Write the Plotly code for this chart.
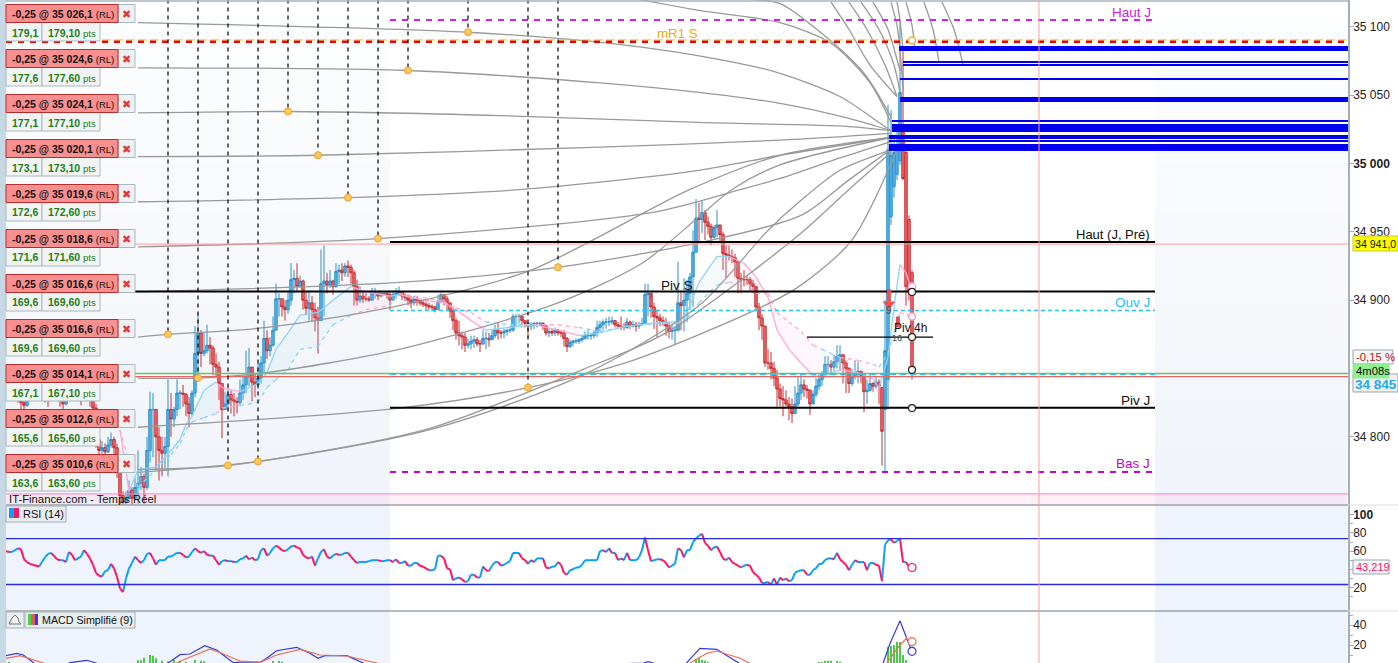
import plotly.graph_objects as go

W, H = 1398, 663

# candles, one per bar (bar n sits 3 px after bar n-1)
closes = [
    34831, 34833, 34836, 34834, 34830, 34825, 34823, 34827, 34831, 34833,
    34834, 34836, 34833, 34830, 34827, 34831, 34834, 34831, 34827, 34824,
    34828, 34833, 34836, 34834, 34831, 34828, 34833, 34831, 34827, 34821,
    34798, 34790, 34792, 34789, 34794, 34798, 34792, 34776, 34757, 34752,
    34755, 34761, 34755, 34763,
    34766, 34771, 34763, 34790, 34820, 34820, 34800, 34790, 34788, 34793,
    34820, 34813, 34820, 34832, 34832, 34831, 34824, 34817, 34832, 34861,
    34876, 34861, 34863, 34867, 34865, 34853, 34851, 34839, 34820, 34824,
    34831, 34827, 34826, 34825, 34832, 34838, 34844, 34851, 34840, 34838,
    34843, 34854, 34872, 34863, 34867, 34878, 34901, 34901, 34895, 34893,
    34900, 34915, 34916, 34910, 34914, 34900, 34894, 34898, 34893, 34887,
    34885, 34912, 34914, 34911, 34914, 34910, 34921, 34922, 34920, 34925,
    34924, 34920, 34910, 34900, 34903, 34901, 34901, 34900, 34905, 34905,
    34903, 34905, 34905, 34904, 34900, 34904, 34905, 34906,
    34903, 34902, 34900, 34898, 34901, 34900, 34898, 34897, 34896, 34895,
    34895, 34893, 34899, 34904, 34901, 34898, 34892, 34885, 34876, 34874,
    34873, 34867, 34868, 34870, 34871, 34868, 34868, 34872, 34872, 34871,
    34874, 34878, 34876, 34876, 34877, 34878, 34878, 34888, 34888, 34888,
    34885, 34883, 34881, 34882, 34883, 34883, 34883, 34881, 34876, 34877,
    34876, 34878, 34876, 34876, 34872, 34866, 34869, 34870, 34870, 34871,
    34872, 34874, 34874, 34874, 34876, 34880, 34882, 34884, 34884, 34884,
    34885, 34882, 34881, 34880, 34880, 34884, 34881, 34882, 34881, 34882,
    34883, 34904, 34905, 34895, 34888, 34887, 34885, 34884, 34881, 34877,
    34878, 34878, 34898, 34896, 34900, 34905, 34917, 34935, 34960, 34959,
    34964, 34957, 34954, 34946, 34953, 34955, 34948, 34934, 34933, 34932,
    34931, 34928, 34916, 34915, 34915, 34915, 34912, 34910, 34895, 34887,
    34881, 34854, 34854, 34850, 34843, 34835, 34828, 34827, 34824, 34822,
    34817, 34824, 34832,
    34838, 34835, 34834, 34824, 34831, 34837, 34842, 34845, 34853, 34853,
    34851, 34855, 34859, 34860, 34854, 34850, 34839, 34844, 34846, 34848,
    34845, 34833, 34834, 34839, 34837, 34840, 34837,
    34804, 34863, 35010, 35006, 35008, 35011, 35052, 34989, 34910, 34906, 34849,
]
highs = [
    34836, 34838, 34840, 34839, 34836, 34832, 34829, 34831, 34835, 34838,
    34839, 34840, 34838, 34836, 34833, 34835, 34838, 34836, 34833, 34829,
    34832, 34837, 34840, 34839, 34836, 34834, 34837, 34836, 34832, 34829,
    34824, 34800, 34797, 34795, 34800, 34803, 34800, 34795, 34778, 34760,
    34760, 34768, 34763, 34770,
    34790, 34778, 34773, 34800, 34833, 34832, 34820, 34807, 34800, 34800,
    34842, 34832, 34822, 34842, 34834, 34838, 34832, 34829, 34834, 34881,
    34890, 34878, 34876, 34882, 34873, 34867, 34861, 34855, 34839, 34833,
    34837, 34834, 34832, 34829, 34842, 34845, 34863, 34865, 34851, 34846,
    34854, 34859, 34885, 34878, 34873, 34888, 34912, 34905, 34901, 34900,
    34907, 34927, 34922, 34927, 34918, 34915, 34906, 34907, 34903, 34898,
    34895, 34937, 34940, 34920, 34922, 34915, 34927, 34926, 34927, 34927,
    34929, 34926, 34922, 34915, 34910, 34906, 34905, 34903, 34909, 34909,
    34907, 34907, 34907, 34906, 34907, 34907, 34909, 34910,
    34906, 34905, 34904, 34903, 34903, 34903, 34901, 34900, 34899, 34898,
    34897, 34896, 34904, 34905, 34904, 34903, 34898, 34894, 34887, 34885,
    34877, 34876, 34872, 34874, 34874, 34873, 34871, 34878, 34877, 34876,
    34878, 34882, 34884, 34878, 34879, 34879, 34881, 34890, 34890, 34890,
    34889, 34885, 34884, 34884, 34884, 34884, 34884, 34884, 34882, 34879,
    34879, 34880, 34879, 34878, 34878, 34873, 34871, 34871, 34872, 34872,
    34874, 34877, 34878, 34876, 34878, 34885, 34885, 34886, 34887, 34888,
    34888, 34885, 34884, 34888, 34883, 34887, 34885, 34885, 34884, 34884,
    34887, 34912, 34912, 34901, 34898, 34893, 34890, 34888, 34887, 34884,
    34883, 34881, 34928, 34907, 34916, 34915, 34920, 34951, 34974, 34971,
    34973, 34966, 34961, 34956, 34955, 34966, 34955, 34950, 34940, 34940,
    34937, 34934, 34929, 34920, 34922, 34918, 34917, 34915, 34907, 34898,
    34890, 34881, 34864, 34862, 34855, 34849, 34839, 34837, 34834, 34829,
    34828, 34837, 34844,
    34846, 34842, 34838, 34835, 34834, 34843, 34846, 34848, 34859, 34859,
    34856, 34860, 34867, 34867, 34859, 34856, 34851, 34850, 34856, 34855,
    34848, 34846, 34842, 34846, 34840, 34844, 34842,
    34836, 34900, 35043, 35039, 35021, 35025, 35105, 35082, 35010, 34962, 34922,
]
lows = [
    34826, 34828, 34831, 34829, 34825, 34820, 34818, 34822, 34826, 34828,
    34829, 34831, 34828, 34825, 34822, 34826, 34829, 34826, 34822, 34819,
    34823, 34828, 34831, 34829, 34826, 34823, 34828, 34826, 34822, 34816,
    34792, 34784, 34786, 34783, 34788, 34792, 34786, 34770, 34750, 34745,
    34748, 34754, 34748, 34756,
    34751, 34761, 34751, 34761, 34781, 34785, 34776, 34768, 34771, 34776,
    34771, 34800, 34807, 34815, 34820, 34822, 34815, 34807, 34815, 34829,
    34844, 34851, 34859, 34861, 34853, 34845, 34844, 34827, 34799, 34821,
    34820, 34817, 34815, 34817, 34823, 34827, 34832, 34837, 34826, 34829,
    34835, 34839, 34846, 34857, 34859, 34866, 34878, 34888, 34888, 34885,
    34890, 34896, 34905, 34906, 34909, 34893, 34889, 34885, 34884, 34877,
    34861, 34888, 34888, 34905, 34909, 34904, 34909, 34912, 34914, 34917,
    34917, 34912, 34896, 34896, 34898, 34898, 34899, 34899, 34900, 34901,
    34900, 34902, 34903, 34901, 34893, 34900, 34901, 34903,
    34900, 34899, 34896, 34894, 34896, 34896, 34896, 34895, 34893, 34893,
    34892, 34891, 34893, 34898, 34896, 34892, 34887, 34878, 34871, 34867,
    34864, 34862, 34865, 34864, 34865, 34866, 34862, 34867, 34864, 34866,
    34872, 34872, 34871, 34872, 34872, 34874, 34876, 34877, 34881, 34883,
    34882, 34880, 34873, 34878, 34879, 34880, 34881, 34878, 34874, 34873,
    34874, 34874, 34874, 34873, 34866, 34862, 34865, 34866, 34868, 34868,
    34869, 34871, 34871, 34871, 34872, 34873, 34877, 34878, 34879, 34881,
    34882, 34880, 34879, 34878, 34878, 34879, 34879, 34880, 34877, 34879,
    34881, 34885, 34888, 34887, 34879, 34873, 34881, 34881, 34874, 34872,
    34871, 34867, 34877, 34878, 34877, 34884, 34893, 34895, 34935, 34942,
    34949, 34944, 34948, 34940, 34945, 34946, 34942, 34922, 34916, 34929,
    34927, 34917, 34905, 34905, 34910, 34911, 34907, 34905, 34892, 34878,
    34871, 34851, 34849, 34842, 34837, 34822, 34822, 34815, 34822, 34812,
    34810, 34817, 34822,
    34827, 34829, 34828, 34816, 34827, 34829, 34834, 34837, 34843, 34846,
    34846, 34848, 34850, 34848, 34839, 34832, 34832, 34837, 34842, 34839,
    34839, 34818, 34824, 34833, 34833, 34835, 34824,
    34779, 34774, 34820, 34955, 34975, 34988, 34999, 34988, 34896, 34900, 34842,
]
# last bars open away from the previous close
tail_opens = [34836, 34820, 34842, 34961, 34983, 34992, 35002, 35023, 35008, 34959, 34920]
opens = [34828] + closes[:-1]
opens[-len(tail_opens):] = tail_opens
bars = list(range(len(closes)))

# moving averages
ma_bars = [38, 41, 44, 50, 55, 58, 60, 62, 66, 70, 72, 78, 84, 87, 90, 94, 98, 104, 109, 115,
           120, 128, 131, 139, 146, 150, 155, 160, 168, 176, 184, 191, 198, 205, 211, 220,
           224, 227, 231, 237, 241, 246, 250, 254, 257, 261, 265, 269, 272, 278, 284, 289,
           291, 294, 296, 298, 300, 302]
ma_fast = [34805, 34760, 34776, 34778, 34790, 34798, 34809, 34815, 34834, 34840, 34836, 34833,
           34839, 34847, 34864, 34876, 34889, 34891, 34900, 34910, 34906, 34903, 34904, 34900,
           34898, 34893, 34885, 34878, 34880, 34882, 34878, 34874, 34876, 34880, 34882, 34884,
           34884, 34891, 34913, 34932, 34932, 34927, 34917, 34902, 34878, 34864, 34854, 34845,
           34844, 34849, 34847, 34842, 34836, 34858, 34895, 34926, 34920, 34907]
ma_slow = [34805, 34782, 34763, 34776, 34787, 34795, 34805, 34811, 34814, 34817, 34821, 34823,
           34825, 34836, 34842, 34849, 34864, 34866, 34882, 34889, 34893, 34896, 34905, 34902,
           34899, 34894, 34891, 34884, 34882, 34882, 34882, 34880, 34877, 34880, 34882, 34883,
           34883, 34887, 34898, 34911, 34913, 34913, 34905, 34905, 34891, 34884, 34877, 34867,
           34864, 34858, 34856, 34853, 34851, 34861, 34876, 34891, 34889, 34888]

# grey order trajectories
curve_bars = [
    [44, 154, 205, 238, 258, 278, 291, 295],
    [44, 134, 198, 231, 258, 281, 295],
    [44, 94, 165, 231, 281, 295],
    [44, 104, 198, 258, 295],
    [44, 114, 172, 231, 258, 295],
    [44, 124, 215, 245, 258, 278, 295],
    [44, 131, 184, 231, 265, 281, 296],
    [44, 54, 87, 131, 175, 228, 258, 281, 295],
    [44, 64, 87, 131, 184, 212, 231, 242, 258, 295],
    [44, 131, 174, 209, 250, 265, 282, 297],
    [44, 74, 141, 194, 231, 254, 265, 278, 295],
    [44, 84, 141, 192, 220, 265, 281, 295],
    [211, 231, 258, 275, 288, 295],
    [246, 258, 272, 286, 295],
    [275, 281, 288, 297],
    [281, 287, 293, 297],
    [285, 291, 296, 298],
    [289, 294, 297, 298],
    [295, 297, 298, 299],
    [297, 298, 299],
    [300, 302, 303],
    [306, 309, 311],
    [312, 316, 319],
]
curve_prices = [
    [35103, 35096, 35087, 35076, 35066, 35049, 35030, 35024],
    [35070, 35068, 35059, 35052, 35044, 35033, 35024],
    [35037, 35038, 35035, 35030, 35027, 35024],
    [35005, 35006, 35012, 35017, 35022],
    [34972, 34975, 34981, 34995, 35006, 35019],
    [34939, 34945, 34964, 34981, 34989, 35004, 35016],
    [34906, 34913, 34924, 34942, 34962, 34988, 35012],
    [34873, 34875, 34880, 34896, 34922, 34981, 35006, 35015, 35019],
    [34843, 34843, 34847, 34864, 34898, 34927, 34961, 34981, 34999, 35019],
    [34807, 34821, 34836, 34856, 34893, 34911, 34944, 35010],
    [34776, 34779, 34805, 34847, 34896, 34951, 34973, 34995, 35010],
    [34774, 34782, 34806, 34849, 34876, 34949, 34981, 35008],
    [35120, 35112, 35103, 35088, 35059, 35030],
    [35120, 35117, 35095, 35066, 35034],
    [35118, 35098, 35072, 35049],
    [35118, 35098, 35072, 35049],
    [35118, 35098, 35072, 35052],
    [35118, 35098, 35076, 35068],
    [35118, 35101, 35083, 35054],
    [35118, 35105, 35083],
    [35118, 35101, 35083],
    [35118, 35098, 35074],
    [35118, 35098, 35072],
]

# dashed verticals ending on a gold dot
dot_bars = [54, 64, 74, 84, 94, 104, 114, 124, 134, 154, 174, 184]
dot_prices = [34875, 34843, 34779, 34782, 35038, 35006, 34975, 34945, 35068, 35096, 34836, 34924]

# blue levels on the right
level_prices = [35084.1, 35074.2, 35072, 35061.8, 35046.8, 35031, 35025.9, 35019.4, 35016.4, 35011.7]
level_starts = [297.7, 299, 299, 298, 298, 295.3, 295.3, 294.3, 294.3, 294.3]
level_widths = [5, 2, 2, 2, 5, 2, 8, 4, 2, 7]

# pivot lines
haut_j, mr1_s, haut_pre, piv_s, ouv_j = 35105, 35090, 34942.6, 34906.3, 34892.4
piv_4h, piv_j, bas_j, last_open = 34873, 34821.2, 34774.3, 34846
line_green, line_red, line_ask, line_bottom = 34846.3, 34844.1, 34941, 34758.2

# end of chart circles
ring_prices = [34906, 34873, 34849, 34821]
pink_ring_prices = [34910, 34888]

# RSI, one value per bar
rsi = [
    60, 59, 59, 61, 63, 62, 51, 48, 46, 45, 44, 43, 48, 53, 57, 58, 55, 51, 50, 50,
    48, 59, 56, 50, 52, 54, 61, 57, 52, 45, 36, 33, 32, 38, 39, 46, 41, 32, 19, 15,
    30, 41, 47, 54, 50, 47, 50, 57, 58, 52, 45, 50, 50, 50, 54, 54, 56, 58, 58, 56,
    53, 54, 59, 63, 60, 58, 60, 56, 55, 55, 50, 45, 49, 50, 49, 49, 48, 48, 51, 52,
    55, 51, 53, 50, 51, 61, 63, 55, 58, 63, 66, 64, 61, 60, 62, 65, 66, 64, 63, 56,
    53, 52, 54, 44, 52, 59, 62, 54, 52, 55, 57, 56, 56, 58, 58, 54, 50, 47, 48, 48,
    48, 49, 50, 50, 50, 49, 49, 50, 50, 48, 51, 47, 47, 49, 44, 44, 47, 47, 44, 43,
    41, 39, 39, 40, 55, 55, 52, 41, 40, 28, 30, 31, 29, 26, 27, 34, 34, 31, 31, 43,
    39, 38, 44, 48, 48,
    44, 45, 47, 49, 58, 58, 58, 52, 50, 46, 50, 48, 52, 52, 52, 42, 41, 43, 43, 48,
    45, 36, 34, 39, 40, 42, 42, 45, 50, 50, 50, 50, 50, 60, 61, 59, 63, 58, 58, 50,
    52, 50, 58, 50, 50, 50, 53, 61, 75, 61, 49, 50, 51, 51, 50, 47, 42, 44, 46, 63,
    61, 53, 61, 61, 70, 74, 77, 79, 69, 66, 61, 64, 65, 59, 52, 50, 53, 48, 46, 44,
    42, 44, 45, 44, 37, 34, 31, 25, 25, 26, 23, 30, 23, 31, 28, 30, 27, 28, 36, 38,
    39, 39, 34, 34, 39, 41, 46, 46, 50, 52, 52, 51, 58, 51, 48, 45, 39, 45, 50, 48,
    48, 48, 39, 47, 47, 45, 44, 27, 67, 72, 73, 69, 71, 74, 48, 48, 43, 42,
]
rsi_high, rsi_low = 73.8, 23.3

# MACD, read where it rises above the bottom of the window
macd_bars = [0, 3.6, 5.8, 9, 12.4, 20, 21.3, 27, 30, 35, 51, 54.7, 58, 61.3, 66.3, 70.2, 75.8,
             79, 84.7, 86.9, 90.2, 96.9, 101.3, 104, 106.3, 113.6, 119, 125.8, 212.5, 214,
             215.8, 218, 224.7, 226.9, 231.3, 236.9, 244.7, 248, 290.2, 292.4, 294.7, 298, 301.9]
macd_line = [9.3, 11.7, 10, 2, -5, 0, 2.3, 4.7, 2, -5, -5, 3.3, 10.3, 11, 19.3, 15, 2.3,
             3, 2.7, 6.7, 14.3, 17.7, 11.7, 6.7, 9.3, 9.3, 2, -7, 2, 3.3,
             2, -5, -5, 2, 16.7, 15.7, 2.3, -5, -7, 2, 21.7, 44.3, 13.7]
signal_bars = [0, 4.7, 12.4, 17, 53.6, 59, 68, 71.9, 78, 84.7, 90.2, 98, 104.7, 113.6, 123.6,
               128, 224.7, 228, 233.6, 236.9, 244.7, 248, 251, 290, 293.6, 298, 300.2, 301.9]
signal_line = [6.7, 9.3, 2, -3, -3, 5, 16, 11.7, 4, 2.7, 10, 15.7, 10, 9, 2,
               -3, -3, 2, 11.7, 14, 6.7, 2, -3, -3, 2, 20, 26.7, 23.3]
hist_bars = [1, 44, 45, 46, 48, 49, 50, 52, 54, 56, 58, 60, 63, 65, 66, 89, 91, 92,
             230, 231, 232, 233, 234, 271, 272, 273, 274, 275, 277, 278,
             294, 295, 296, 297, 298, 299, 300]
hist_values = [3.3, 4.7, 5, 7.3, 10, 9.3, 6.7, 4.3, 3.7, 5, 4.3, 3.3, 5, 4.3, 3.7, 4, 4, 3.3,
               5.7, 6.7, 5, 4.3, 3.3, 3, 3, 4.3, 4.3, 4.3, 4, 3.3,
               18.3, 19, 20, 23, 23, 10, 5]

# order tickets on the left
order_prices = ["35 026,1", "35 024,6", "35 024,1", "35 020,1", "35 019,6", "35 018,6",
                "35 016,6", "35 016,6", "35 014,1", "35 012,6", "35 010,6"]
order_pts = ["179,1", "177,6", "177,1", "173,1", "172,6", "171,6",
             "169,6", "169,6", "167,1", "165,6", "163,6"]

FONT = "Liberation Sans"
LAST_BAR = 1342 / 3
LEFT_BAR, MID_BAR = 0, (1155 - 6) / 3
ZONE_BAR = (390 - 6) / 3


def fx(px):
    return px / W


def fy(py):
    return 1 - py / H


fig = go.Figure()


def hline(price, x0, x1, color, width, dash="solid", yaxis="y"):
    fig.add_trace(go.Scatter(x=[x0, x1], y=[price, price], mode="lines", yaxis=yaxis,
                             line=dict(color=color, width=width, dash=dash), hoverinfo="skip"))


def rising(i):
    return ma_fast[i + 1] >= ma_fast[i]


# cloud between the averages, coloured with the direction of the fast one
for i in range(len(ma_bars) - 1):
    fill = "rgba(170,215,240,0.12)" if rising(i) else "rgba(255,170,215,0.09)"
    fig.add_trace(go.Scatter(
        x=[ma_bars[i], ma_bars[i + 1], ma_bars[i + 1], ma_bars[i]],
        y=[ma_fast[i], ma_fast[i + 1], ma_slow[i + 1], ma_slow[i]],
        mode="lines", line=dict(width=0), fill="toself", fillcolor=fill, hoverinfo="skip"))

fig.add_trace(go.Candlestick(
    x=bars, open=opens, high=highs, low=lows, close=closes, whiskerwidth=0,
    increasing=dict(line=dict(color="#2a90c8", width=1), fillcolor="#55b4e6"),
    decreasing=dict(line=dict(color="#c82c30", width=1), fillcolor="#f26a6a"),
    hoverinfo="skip"))

for i in range(len(ma_bars) - 1):
    color = "#8fd3fa" if rising(i) else "#ffa8d2"
    seg = [ma_bars[i], ma_bars[i + 1]]
    fig.add_trace(go.Scatter(x=seg, y=[ma_fast[i], ma_fast[i + 1]], mode="lines",
                             line=dict(color=color, width=1.3), hoverinfo="skip"))
    fig.add_trace(go.Scatter(x=seg, y=[ma_slow[i], ma_slow[i + 1]], mode="lines",
                             line=dict(color=color, width=1.3, dash="4px,4px"), hoverinfo="skip"))

for cx, cy in zip(curve_bars, curve_prices):
    fig.add_trace(go.Scatter(x=cx, y=cy, mode="lines", hoverinfo="skip",
                             line=dict(color="#999999", width=1.3, shape="spline", smoothing=0.8)))

# full width lines
hline(line_ask, LEFT_BAR, LAST_BAR, "#ff9c9c", 1)
hline(line_bottom, LEFT_BAR, LAST_BAR, "#ff80c4", 1)
hline(line_green, LEFT_BAR, LAST_BAR, "#62c862", 1.3)
hline(line_red, LEFT_BAR, LAST_BAR, "#e86464", 1.3)
hline(mr1_s + 0.4, LEFT_BAR, LAST_BAR, "#f5c000", 1, "9px,3px")
hline(mr1_s - 1, LEFT_BAR, LAST_BAR, "#f00000", 2.6, "6px,6px")
hline(piv_s, LEFT_BAR, MID_BAR, "#000000", 2)

# day levels
hline(haut_j, ZONE_BAR, MID_BAR, "#cc22ee", 2, "6px,6px")
hline(haut_pre, ZONE_BAR, MID_BAR, "#000000", 2)
hline(ouv_j, ZONE_BAR, MID_BAR, "#22c4f5", 1.3, "4px,3px")
hline(last_open, ZONE_BAR, MID_BAR, "#22c4f5", 2, "6px,4px")
hline(piv_j, ZONE_BAR, MID_BAR, "#000000", 2)
hline(bas_j, ZONE_BAR, MID_BAR, "#c800c8", 2, "6px,6px")
hline(piv_4h, 267, 309, "#000000", 1.3)

for price, start, width in zip(level_prices, level_starts, level_widths):
    hline(price, start, LAST_BAR, "#0000ee", width)

# dashed droppers and their dots
for bx, price in zip(dot_bars, dot_prices):
    fig.add_trace(go.Scatter(x=[bx, bx], y=[35120, price], mode="lines", hoverinfo="skip",
                             line=dict(color="#000000", width=1.2, dash="4px,4px")))
fig.add_trace(go.Scatter(x=dot_bars, y=dot_prices, mode="markers", hoverinfo="skip",
                         marker=dict(color="#fbc95c", size=7, line=dict(color="#eda22a", width=1))))

# sell signals
fig.add_trace(go.Scatter(x=[294.3, 294.3], y=[34908, 34899], mode="lines", hoverinfo="skip",
                         line=dict(color="#f05050", width=4)))
fig.add_trace(go.Scatter(x=[294.3], y=[34897], mode="markers", hoverinfo="skip",
                         marker=dict(symbol="triangle-down", color="#f05050", size=11)))
fig.add_trace(go.Scatter(x=[297.3, 297.3], y=[34888, 34880], mode="lines", hoverinfo="skip",
                         line=dict(color="#e05050", width=4)))

# end of chart circles
fig.add_trace(go.Scatter(x=[302] * len(pink_ring_prices), y=pink_ring_prices, mode="markers",
                         hoverinfo="skip",
                         marker=dict(color="#ffffff", size=7, line=dict(color="#ffa0d0", width=1.5))))
fig.add_trace(go.Scatter(x=[302] * len(ring_prices), y=ring_prices, mode="markers", hoverinfo="skip",
                         marker=dict(color="#ffffff", size=7, line=dict(color="#222222", width=1.2))))
fig.add_trace(go.Scatter(x=[302], y=[mr1_s], mode="markers", hoverinfo="skip",
                         marker=dict(color="#ffffff", size=7, line=dict(color="#f5b030", width=1.5))))

# RSI split into rising and falling strokes
for up, color in ((True, "#0aa0f5"), (False, "#ff1464")):
    xs, ys = [], []
    for i in range(len(rsi) - 1):
        if (rsi[i + 1] >= rsi[i]) == up:
            xs += [bars[i], bars[i + 1], None]
            ys += [rsi[i], rsi[i + 1], None]
    fig.add_trace(go.Scatter(x=xs, y=ys, mode="lines", yaxis="y2", hoverinfo="skip",
                             line=dict(color=color, width=2)))
hline(rsi_high, LEFT_BAR, LAST_BAR, "#2a2ae0", 1.3, yaxis="y2")
hline(rsi_low, LEFT_BAR, LAST_BAR, "#2a2ae0", 1.3, yaxis="y2")
fig.add_trace(go.Scatter(x=[302], y=[rsi[-1]], mode="markers", yaxis="y2", hoverinfo="skip",
                         marker=dict(color="#ffffff", size=8, line=dict(color="#ff1464", width=1.2))))

# MACD
fig.add_trace(go.Bar(x=hist_bars, y=hist_values, yaxis="y3", width=0.6,
                     marker=dict(color="#44cc44", line=dict(width=0)), hoverinfo="skip"))
fig.add_trace(go.Scatter(x=macd_bars, y=macd_line, mode="lines", yaxis="y3", hoverinfo="skip",
                         line=dict(color="#3a3ad8", width=1.2)))
fig.add_trace(go.Scatter(x=signal_bars, y=signal_line, mode="lines", yaxis="y3", hoverinfo="skip",
                         line=dict(color="#e8705a", width=1.2)))
fig.add_trace(go.Scatter(x=[302], y=[23.3], mode="markers", yaxis="y3", hoverinfo="skip",
                         marker=dict(color="#ffffff", size=8, line=dict(color="#e8705a", width=1.2))))
fig.add_trace(go.Scatter(x=[302], y=[13.7], mode="markers", yaxis="y3", hoverinfo="skip",
                         marker=dict(color="#ffffff", size=8, line=dict(color="#3a3ad8", width=1.2))))

shapes = []
notes = []


def box(x0, y0, x1, y1, fill, line=None, layer="above", width=1):
    shapes.append(dict(type="rect", xref="paper", yref="paper", x0=fx(x0), x1=fx(x1), y0=fy(y0), y1=fy(y1),
                       fillcolor=fill, layer=layer, line=dict(color=line or fill, width=width if line else 0)))


def note(x, y, text, size=12, color="#111111", anchor="left"):
    notes.append(dict(xref="paper", yref="paper", x=fx(x), y=fy(y), text=text, showarrow=False,
                      xanchor=anchor, yanchor="middle", borderpad=0,
                      font=dict(family=FONT, size=size, color=color)))


# side strip and shaded zones, top of the main panel fades from white
box(0, 0, 6, H, "#c6d8e3", layer="below")
steps = 10
for i in range(steps):
    y0, y1 = 20 + i * 474 / steps, 20 + (i + 1) * 474 / steps
    g = i / (steps - 1)
    color = "rgb(%d,%d,%d)" % (253 - 12 * g, 254 - 10 * g, 255 - 5 * g)
    box(6, y0, 390, y1, color, layer="below")
    box(1155, y0, 1347, y1, color, layer="below")
box(6, 494, 390, 505, "#f5e8f5", layer="below")
box(390, 494, 1155, 505, "#fff0f7", layer="below")
box(1155, 494, 1347, 505, "#f5e8f5", layer="below")
for top, bottom in ((505, 611), (611, H)):
    box(6, top, 390, bottom, "#eff3fb", layer="below")
    box(1155, top, 1347, bottom, "#eff3fb", layer="below")

# panel borders and the red time marker
for py in (505, 611):
    shapes.append(dict(type="line", xref="paper", yref="paper", x0=fx(6), x1=fx(1348), y0=fy(py), y1=fy(py),
                       line=dict(color="#9aa5ad", width=1.5)))
    shapes.append(dict(type="line", xref="paper", yref="paper", x0=fx(1348), x1=1, y0=fy(py), y1=fy(py),
                       line=dict(color="#d8dde0", width=1)))
shapes.append(dict(type="line", xref="paper", yref="paper", x0=fx(6), x1=fx(1348), y0=fy(1), y1=fy(1),
                   line=dict(color="#a8b4bc", width=1.5)))
shapes.append(dict(type="line", xref="x", yref="paper", x0=344.33, x1=344.33, y0=0, y1=1,
                   line=dict(color="#ff9c9c", width=1)))

# order tickets
for i, (price, pts) in enumerate(zip(order_prices, order_pts)):
    top = 4.5 + 45 * i
    box(118, top, 135, top + 18, "#eef1f2", "#a9b8c0")
    box(6, top + 18, 42, top + 36.5, "#f2f4f4", "#a9b8c0")
    box(42, top + 18, 100, top + 36.5, "#f2f4f4", "#a9b8c0")
    box(6, top, 118, top + 18, "#f98f8f", "#b92c2c")
    note(11, top + 9.5, "<b>-0,25 @ %s</b> <span style='font-size:9.5px'>(RL)</span>" % price, 10.5, "#111111")
    note(126.5, top + 9.5, "✖", 11, "#dd3c3c", "center")
    note(11, top + 28, "<b>%s</b>" % pts, 10.5, "#1a7f1a")
    note(47, top + 28, "<b>%s0</b> <span style='font-size:9.5px'>pts</span>" % pts, 10.5, "#1a7f1a")

# indicator tags
note(8, 499, "IT-Finance.com - Temps Réel", 11.3, "#111111")
box(6, 506, 66, 522, "#e8eef0", "#a4b0b6")
box(9, 508, 14, 518, "#0aa0f5")
box(14, 508, 19, 518, "#ff1464")
note(22, 514, "RSI (14)", 11)
box(6, 612, 24, 628, "#e8eef0", "#a4b0b6")
box(25, 612, 135, 628, "#e8eef0", "#a4b0b6")
shapes.append(dict(type="path", xref="paper", yref="paper", layer="above",
                   path="M %f %f L %f %f L %f %f L %f %f L %f %f L %f %f Z" % (
                       fx(15), fy(615), fx(18), fy(618), fx(19), fy(622), fx(21), fy(624),
                       fx(9), fy(624), fx(12), fy(618)),
                   fillcolor="#eef1f2", line=dict(color="#777777", width=1)))
box(28, 614, 31, 625, "#4ccc4c")
box(31, 614, 35, 625, "#d8605a")
box(35, 614, 38, 625, "#3a3ad8")
note(41, 620, "MACD Simplifié (9)", 10.7)

# level names
note(1131, 12, "Haut J", 13.5, "#d020e8", "center")
note(677, 33, "mR1 S", 13.3, "#f5a800", "center")
note(1113, 234, "Haut (J, Pré)", 13, "#111111", "center")
note(677, 285, "Piv S", 13.5, "#111111", "center")
note(1132, 303, "Ouv J", 13.5, "#22c4f5", "center")
note(1135, 400, "Piv J", 13.5, "#111111", "center")
note(1133, 464, "Bas J", 13.5, "#c800c8", "center")
note(910, 328, "Piv 4h", 12, "#111111", "center")
note(889, 310, "9", 10, "#444444", "center")
note(897, 338, "16", 9, "#444444", "center")

# right hand tags
box(1353, 236, 1398, 251, "#ffff00", "#c8c840")
note(1354, 244, "34 941,0", 10.6)
box(1353, 350, 1393, 364, "#f4f6f7", "#9aa5ad")
note(1355, 357, "-0,15 %", 11.3, "#b02020")
box(1353, 374, 1398, 392, "#f0f0f0", "#9aa5ad")
note(1354, 384, "<b>34 845</b>", 13.5, "#20aee8")
box(1353, 364, 1389, 378, "#90ee90", "#90ee90")
note(1355, 371, "4m08s", 11.3)
box(1353, 560, 1389, 574, "#f4f6f7", "#9aa5ad")
note(1355, 567, "43,219", 11, "#ff1464")

axis_common = dict(side="right", anchor="x", showgrid=False, zeroline=False, ticks="outside", ticklen=4,
                   tickcolor="#9fb0ba", showline=True, linecolor="#9fb0ba", linewidth=1.5,
                   ticklabelstandoff=-3, tickfont=dict(family=FONT, size=12, color="#222222"))

fig.update_layout(
    width=W, height=H, margin=dict(l=0, r=0, t=0, b=0), showlegend=False,
    paper_bgcolor="#ffffff", plot_bgcolor="rgba(0,0,0,0)", barmode="overlay",
    boxgap=0.18, boxgroupgap=0,
    font=dict(family=FONT),
    xaxis=dict(domain=[fx(6), fx(1348)], range=[0, LAST_BAR], showgrid=False, zeroline=False,
               showticklabels=False, ticks="", rangeslider=dict(visible=False)),
    yaxis=dict(domain=[fy(505), 1], range=[34750.1, 35119.6],
               tickvals=[35100, 35050, 35000, 34950, 34900, 34800],
               ticktext=["35 100", "35 050", "<b>35 000</b>", "34 950", "34 900", "34 800"], **axis_common),
    yaxis2=dict(domain=[fy(611), fy(505)], range=[-5.8, 110.66],
                tickvals=[100, 80, 60, 20], ticktext=["<b>100</b>", "80", "60", "20"],
                minor=dict(tickvals=[90, 70, 50, 40, 30, 10], ticks="outside", ticklen=3, tickcolor="#9fb0ba"),
                **axis_common),
    yaxis3=dict(domain=[0, fy(611)], range=[2, 54], tickvals=[40, 20], ticktext=["40", "20"],
                minor=dict(tickvals=[50, 30, 10], ticks="outside", ticklen=3, tickcolor="#9fb0ba"),
                **axis_common),
    shapes=shapes, annotations=notes,
)

fig.write_html("out.html", config={"displayModeBar": False},
               post_script="document.body.style.margin='0';document.documentElement.style.overflow='hidden';")
